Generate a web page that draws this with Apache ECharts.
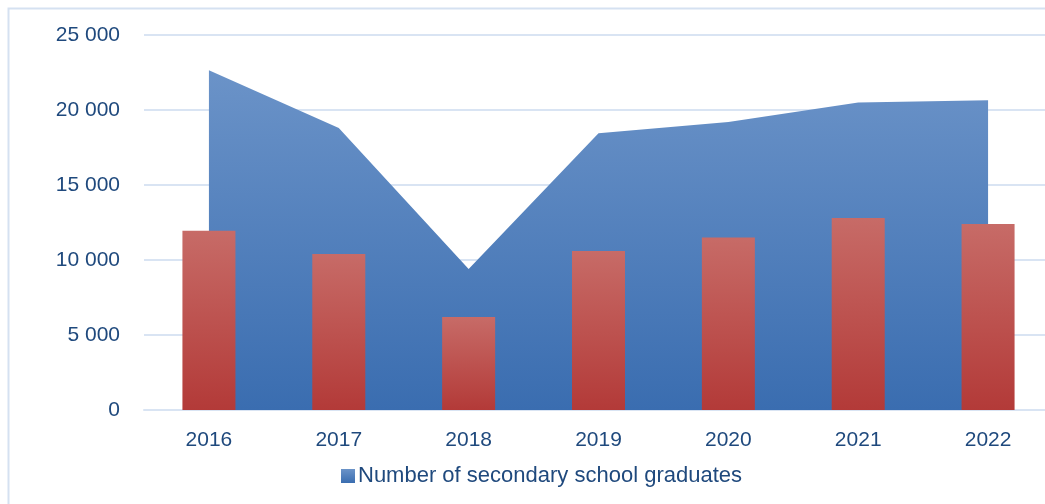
<!DOCTYPE html>
<html>
<head>
<meta charset="utf-8">
<style>
  html, body { margin: 0; padding: 0; background: #ffffff; overflow: hidden; }
  /* the drawing is a little wider than the window; the right edge is cut off */
  #chart { width: 1053px; height: 504px; }
</style>
<script src="https://cdn.jsdelivr.net/npm/echarts@6/dist/echarts.min.js"></script>
</head>
<body>
<div id="chart"></div>
<script>
// Years on the category axis
const years = ['2016', '2017', '2018', '2019', '2020', '2021', '2022'];
// Area series: number of secondary school graduates
const graduates = [22650, 18800, 9400, 18450, 19200, 20500, 20650];
// Bar series drawn in front of the area
const barValues = [11950, 10400, 6200, 10600, 11500, 12800, 12400];
// Value axis range and step
const yMin = 0;
const yMax = 25000;
const yStep = 5000;

const areaName = 'Number of secondary school graduates';
const textColor = '#1f497d';
const gridColor = '#d9e4f3';
const fontFamily = '"Liberation Sans", Arial, sans-serif';

function spaced(v) {
  return String(v).replace(/\B(?=(\d{3})+(?!\d))/g, ' ');
}

const chart = echarts.init(document.getElementById('chart'), null, { renderer: 'canvas' });

chart.setOption({
  animation: false,
  backgroundColor: '#ffffff',
  graphic: [{
    type: 'rect',
    z: -10,
    shape: { x: 8.5, y: 8.5, width: 1200, height: 700 },
    style: { fill: 'none', stroke: '#d5e1f1', lineWidth: 2 }
  }],
  grid: { left: 144, right: 0, top: 35, bottom: 94 },
  legend: {
    data: [areaName],
    left: 336,
    top: 460,
    itemWidth: 14,
    itemHeight: 14,
    itemGap: 4,
    icon: 'rect',
    textStyle: { color: textColor, fontSize: 22, fontFamily: fontFamily, padding: [0, 0, 0, -2] }
  },
  xAxis: {
    type: 'category',
    data: years,
    boundaryGap: true,
    axisLine: { show: true, lineStyle: { color: gridColor, width: 2 } },
    axisTick: { show: false },
    axisLabel: { color: textColor, fontSize: 21, fontFamily: fontFamily, margin: 20 },
    splitLine: { show: false }
  },
  yAxis: {
    type: 'value',
    min: yMin,
    max: yMax,
    interval: yStep,
    axisLine: { show: false },
    axisTick: { show: false },
    axisLabel: {
      color: textColor, fontSize: 21, fontFamily: fontFamily, margin: 24,
      formatter: v => spaced(v)
    },
    splitLine: { show: true, lineStyle: { color: gridColor, width: 2 } }
  },
  series: [
    {
      name: areaName,
      type: 'line',
      data: graduates,
      showSymbol: false,
      symbol: 'none',
      z: 1,
      lineStyle: { width: 0 },
      itemStyle: {
        color: new echarts.graphic.LinearGradient(0, 0, 0, 1, [
          { offset: 0, color: '#6b93c8' },
          { offset: 1, color: '#3a6db0' }
        ])
      },
      areaStyle: {
        opacity: 1,
        color: new echarts.graphic.LinearGradient(0, 0, 0, 1, [
          { offset: 0, color: '#6b93c8' },
          { offset: 1, color: '#3a6db0' }
        ])
      }
    },
    {
      name: 'Series 2',
      type: 'bar',
      data: barValues,
      barWidth: 53,
      z: 3,
      itemStyle: {
        color: new echarts.graphic.LinearGradient(0, 0, 0, 1, [
          { offset: 0, color: '#c76b67' },
          { offset: 1, color: '#b33a38' }
        ])
      }
    }
  ]
});
</script>
</body>
</html>
